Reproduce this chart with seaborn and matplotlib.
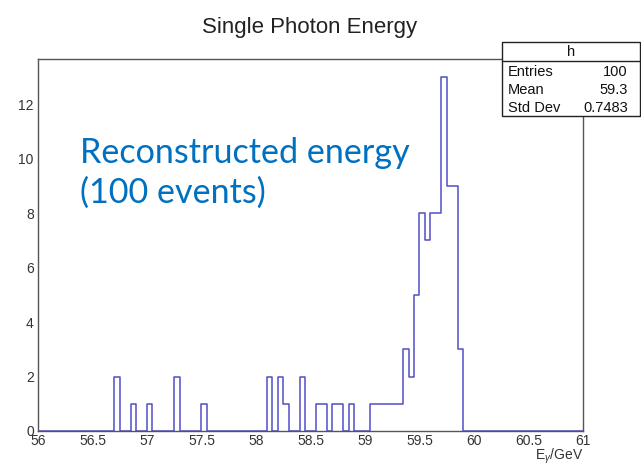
import numpy as np
import pandas as pd
import matplotlib
matplotlib.use("Agg")
import matplotlib.pyplot as plt
from matplotlib.patches import Rectangle
from matplotlib.lines import Line2D
from matplotlib.ticker import MultipleLocator
import seaborn as sns

# ---- data (bin lower edges of non-empty bins, bin width 0.05 GeV) ----
bin_low = [56.70, 56.85, 57.00, 57.25, 57.50,
           58.10, 58.20, 58.25, 58.40, 58.55, 58.60, 58.70, 58.75, 58.85,
           59.05, 59.10, 59.15, 59.20, 59.25, 59.30,
           59.35, 59.40, 59.45, 59.50, 59.55, 59.60, 59.65, 59.70,
           59.75, 59.80, 59.85]
counts = [2, 1, 1, 2, 1,
          2, 2, 1, 2, 1, 1, 1, 1, 1,
          1, 1, 1, 1, 1, 1,
          3, 2, 5, 8, 7, 8, 8, 13,
          9, 9, 3]
x_range = (56.0, 61.0)
n_bins = 100
title = "Single Photon Energy"
xlabel = r"E$_{\gamma}$/GeV"
stats_name = "h"
stats_rows = [("Entries", "100"), ("Mean", "59.3"), ("Std Dev", "0.7483")]
note = "Reconstructed energy\n(100 events)"

sns.set_style("white")
plt.rcParams["font.family"] = ["Liberation Sans", "DejaVu Sans"]
plt.rcParams["mathtext.fontset"] = "custom"
plt.rcParams["mathtext.rm"] = "Liberation Sans"
plt.rcParams["mathtext.it"] = "Liberation Sans:italic"

W, H = 641, 469
fig = plt.figure(figsize=(W / 100, H / 100), dpi=100)
fig.patch.set_facecolor("white")

L, R, T, B = 38, 583, 59.5, 431
ax = fig.add_axes([L / W, 1 - B / H, (R - L) / W, (B - T) / H])
ax.set_facecolor("white")

bin_width = (x_range[1] - x_range[0]) / n_bins
df = pd.DataFrame({"E": np.array(bin_low) + bin_width / 2, "n": counts})
sns.histplot(data=df, x="E", weights="n", bins=n_bins, binrange=x_range,
             element="step", fill=False, color="#4f4fc8", linewidth=1.1, ax=ax)

ax.set_xlim(*x_range)
ax.set_ylim(0, 13 * 1.05)
ax.set_xlabel("")
ax.set_ylabel("")

ax.xaxis.set_major_locator(MultipleLocator(0.5))
ax.xaxis.set_minor_locator(MultipleLocator(0.1))
ax.yaxis.set_major_locator(MultipleLocator(2))
ax.yaxis.set_minor_locator(MultipleLocator(0.25))
ax.xaxis.set_major_formatter(matplotlib.ticker.FuncFormatter(lambda v, p: f"{v:g}"))
ax.tick_params(axis="x", which="major", direction="in", length=7.7, width=1,
               color="#555555", labelsize=10, labelcolor="#333333", pad=2.5)
ax.tick_params(axis="x", which="minor", direction="in", length=4.1, width=1,
               color="#555555")
ax.tick_params(axis="y", which="major", direction="in", length=12, width=1,
               color="#555555", labelsize=10, labelcolor="#333333", pad=3)
ax.tick_params(axis="y", which="minor", direction="in", length=6, width=1,
               color="#555555")
for s in ax.spines.values():
    s.set_color("#555555")
    s.set_linewidth(1)

fig.text(310 / W, 1 - 27 / H, title, ha="center", va="center",
         fontsize=16, color="#222222")
fig.text(583 / W, 1 - 456.5 / H, xlabel, ha="right", va="center",
         fontsize=10, color="#333333")

fig.text(80 / W, 1 - 137 / H, note, ha="left", va="top",
         fontsize=24.6, color="#0070C0", family=["Lato", "DejaVu Sans"],
         linespacing=1.28)

# ---- stats box ----
bx0, bx1, by0, by1, byh = 501.7, 639.5, 42.3, 116, 61
fig.patches.append(Rectangle((bx0 / W, 1 - by1 / H), (bx1 - bx0) / W,
                             (by1 - by0) / H, transform=fig.transFigure,
                             facecolor="white", edgecolor="#222222",
                             linewidth=1, zorder=5))
fig.lines.append(Line2D([bx0 / W, bx1 / W], [1 - byh / H, 1 - byh / H],
                        transform=fig.transFigure, color="#222222",
                        linewidth=1, zorder=6))
fig.text((bx0 + bx1) / 2 / W, 1 - 51.5 / H, stats_name, ha="center",
         va="center", fontsize=10.5, color="#111111", zorder=7)
row_y = [72, 90.5, 108.5]
for (k, v), yy in zip(stats_rows, row_y):
    fig.text(508 / W, 1 - yy / H, k, ha="left", va="center", fontsize=10.5,
             color="#111111", zorder=7)
    fig.text(628 / W, 1 - yy / H, v, ha="right", va="center", fontsize=10.5,
             color="#111111", zorder=7)

fig.savefig("out.png", dpi=100)
